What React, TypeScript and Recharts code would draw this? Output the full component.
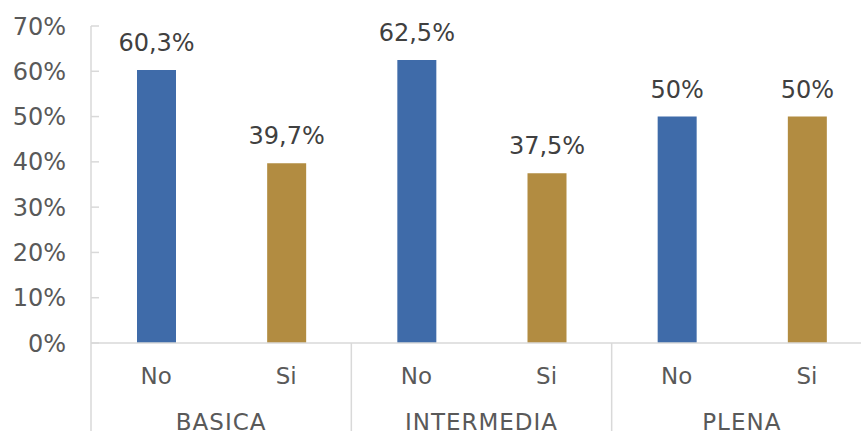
import React from 'react';
import { Bar, BarChart, Cell, LabelList, XAxis, YAxis } from 'recharts';

const groups = ['BASICA', 'INTERMEDIA', 'PLENA'];
const answers = ['No', 'Si'];
const noValues = [60.3, 62.5, 50];
const siValues = [39.7, 37.5, 50];
const yTicks = [0, 10, 20, 30, 40, 50, 60, 70];

const COLORS: Record<string, string> = { No: '#3F6BA9', Si: '#B28C41' };
const AXIS = '#D9D9D9';
const TEXT = '#595959';
const FONT = '"DejaVu Sans", Verdana, sans-serif';

const WIDTH = 872;
const HEIGHT = 431;
const LEFT = 91;
const TOP = 26;
const BOTTOM = 88;

const data = groups.flatMap((g, i) => [
  { group: g, answer: answers[0], value: noValues[i] },
  { group: g, answer: answers[1], value: siValues[i] },
]);

const BAND = (WIDTH - LEFT) / data.length;

const pct = (v: number) => `${String(v).replace('.', ',')}%`;

const YTick = (props: any) => {
  const { x, y, payload } = props;
  return (
    <g>
      <line x1={LEFT} x2={LEFT + 8} y1={y} y2={y} stroke={AXIS} strokeWidth={1.5} />
      <text x={x} y={y} dy="0.36em" textAnchor="end" fill={TEXT} fontSize={24} fontFamily={FONT}>
        {payload.value}%
      </text>
    </g>
  );
};

const XTick = (props: any) => {
  const { x, y, index, payload } = props;
  const row = data[index];
  const first = index % answers.length === 0;
  return (
    <g>
      <text x={x} y={y + 41} textAnchor="middle" fill={TEXT} fontSize={23} fontFamily={FONT}>
        {payload.value}
      </text>
      {first && (
        <>
          <line x1={x - BAND / 2} x2={x - BAND / 2} y1={y} y2={y + BOTTOM + 2} stroke={AXIS} strokeWidth={1.5} />
          <text
            x={x + BAND / 2}
            y={y + 87}
            textAnchor="middle"
            fill={TEXT}
            fontSize={23}
            letterSpacing={1}
            fontFamily={FONT}
          >
            {row.group}
          </text>
        </>
      )}
    </g>
  );
};

export default function App() {
  return (
    <div style={{ position: 'absolute', left: 0, top: 0, width: 861, height: HEIGHT, overflow: 'hidden', background: '#fff' }}>
      <BarChart width={WIDTH} height={HEIGHT} data={data} margin={{ top: TOP, right: 0, bottom: 0, left: 0 }}>
        <XAxis
          dataKey="answer"
          height={BOTTOM}
          interval={0}
          axisLine={{ stroke: AXIS, strokeWidth: 1.5 }}
          tickLine={false}
          tickSize={0}
          tickMargin={0}
          tick={<XTick />}
        />
        <YAxis
          width={LEFT}
          domain={[0, 70]}
          ticks={yTicks}
          interval={0}
          axisLine={{ stroke: AXIS, strokeWidth: 1.5 }}
          tickLine={false}
          tickSize={0}
          tickMargin={25}
          tick={<YTick />}
        />
        <Bar dataKey="value" barSize={39} isAnimationActive={false}>
          {data.map((d, i) => (
            <Cell key={i} fill={COLORS[d.answer]} />
          ))}
          <LabelList
            dataKey="value"
            position="top"
            offset={19}
            formatter={(v: any) => pct(Number(v))}
            fill="#404040"
            fontSize={24}
            fontFamily={FONT}
          />
        </Bar>
      </BarChart>
    </div>
  );
}
